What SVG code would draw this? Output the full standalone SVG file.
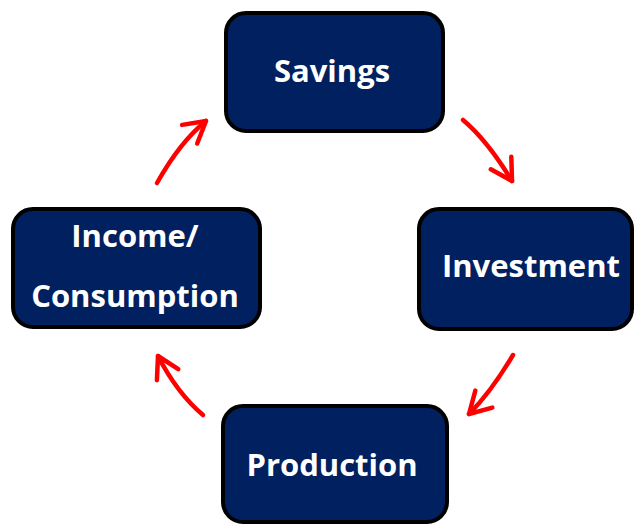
<svg xmlns="http://www.w3.org/2000/svg" width="635" height="524" viewBox="0 0 635 524">
  <style>
    .box { fill: #002060; stroke: #000000; stroke-width: 4; }
    .lbl { fill: #ffffff; font-family: "Open Sans", "Liberation Sans", sans-serif; font-weight: 700; font-size: 31px; text-anchor: middle; }
    .arr { fill: none; stroke: #ff0000; stroke-width: 4.5; stroke-linecap: round; marker-end: url(#head); }
  </style>
  <defs>
    <marker id="head" markerUnits="userSpaceOnUse" orient="auto" markerWidth="40" markerHeight="40" refX="0" refY="0" viewBox="-30 -20 40 40" overflow="visible">
      <path d="M -21,-12 L 0,0 L -21,12" fill="none" stroke="#ff0000" stroke-width="4.5" stroke-linecap="round" stroke-linejoin="round"/>
    </marker>
  </defs>
  <rect width="635" height="524" fill="#ffffff"/>
  <g id="connectors">
    <path class="arr" d="M 463,120 Q 487,140 512,181"/>
    <path class="arr" d="M 513,355 Q 491,392 469,414"/>
    <path class="arr" d="M 203,415 Q 177,393 158,356"/>
    <path class="arr" d="M 157,183 Q 180,142 206,121"/>
  </g>
  <g id="savings">
    <rect class="box" x="226" y="13" width="217" height="118" rx="20"/>
    <text class="lbl" x="332" y="82">Savings</text>
  </g>
  <g id="investment">
    <rect class="box" x="419" y="209" width="213" height="120" rx="20"/>
    <text class="lbl" x="531" y="277">Investment</text>
  </g>
  <g id="production">
    <rect class="box" x="223" y="406" width="224" height="116" rx="20"/>
    <text class="lbl" x="332" y="476">Production</text>
  </g>
  <g id="income">
    <rect class="box" x="13" y="209" width="247" height="118" rx="20"/>
    <text class="lbl" x="135" y="247">Income/</text>
    <text class="lbl" x="135" y="307">Consumption</text>
  </g>
</svg>
